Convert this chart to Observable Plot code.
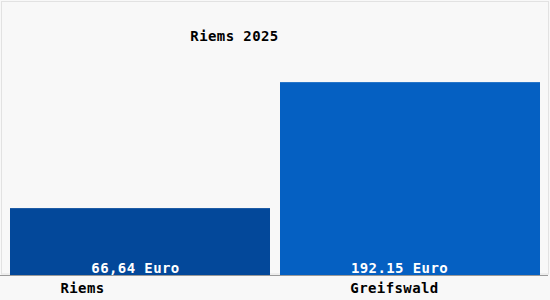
<!DOCTYPE html>
<html>
<head>
<meta charset="utf-8">
<script src="https://cdn.jsdelivr.net/npm/d3@7"></script>
<script src="https://cdn.jsdelivr.net/npm/@observablehq/plot@0.6"></script>
<style>
  html, body { margin: 0; padding: 0; background: #f8f8f8; }
</style>
</head>
<body>
<div id="chart"></div>
<script>
const categories = ["Riems", "Greifswald"];
const values = [66.64, 192.15];
const valueLabels = ["66,64 Euro", "192.15 Euro"];
const colors = ["#03489a", "#0560c2"];
const title = "Riems 2025";

const data = categories.map((c, i) => ({category: c, value: values[i], label: valueLabels[i], color: colors[i]}));

const font = "'DejaVu Sans Mono', monospace";

const chart = Plot.plot({
  width: 550,
  height: 300,
  marginTop: 0,
  marginBottom: 25,
  marginLeft: 0,
  marginRight: 0,
  style: {background: "#f8f8f8", fontFamily: font, fontSize: "14px", letterSpacing: "0.4px"},
  x: {domain: categories, range: [9.5, 541], paddingInner: 0.036, paddingOuter: 0, axis: null},
  y: {domain: [0, 274], axis: null},
  marks: [
    Plot.frame({stroke: "#e2e2e2", insetLeft: 1, insetTop: 1, insetRight: 2, insetBottom: 1.5}),
    Plot.barY(data, {x: "category", y: "value", fill: "color"}),
    Plot.ruleY([0], {stroke: "#9a9a9a", insetRight: 2}),
    Plot.text(data.filter(d => d.category === categories[0]), {x: "category", y: 0, text: "label", fill: "white", dy: -7, dx: -5, textAnchor: "middle", fontSize: 14, fontWeight: "bold"}),
    Plot.text(data.filter(d => d.category === categories[1]), {x: "category", y: 0, text: "label", fill: "white", dy: -7, dx: -11, textAnchor: "middle", fontSize: 14, fontWeight: "bold"}),
    Plot.text(data.filter(d => d.category === categories[0]), {x: "category", y: 0, text: "category", fill: "black", dy: 13, dx: -58, textAnchor: "middle", fontSize: 14, fontWeight: "bold"}),
    Plot.text(data.filter(d => d.category === categories[1]), {x: "category", y: 0, text: "category", fill: "black", dy: 13, dx: -16, textAnchor: "middle", fontSize: 14, fontWeight: "bold"}),
    Plot.text([title], {frameAnchor: "top-left", text: d => d, dx: 234, dy: 31, textAnchor: "middle", fill: "black", fontSize: 14, fontWeight: "bold"})
  ]
});
document.getElementById("chart").appendChild(chart);
</script>
</body>
</html>
